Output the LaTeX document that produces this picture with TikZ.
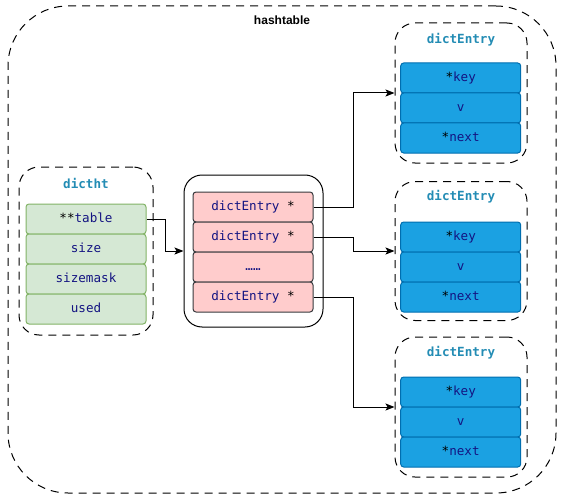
\documentclass[tikz,border=0pt]{standalone}
\usepackage{fontspec}
\setmainfont{Liberation Sans}
\setmonofont{DejaVu Sans Mono}
\usetikzlibrary{arrows.meta}
\definecolor{gfill}{HTML}{D5E8D4}
\definecolor{gdraw}{HTML}{82B366}
\definecolor{pfill}{HTML}{FFCCCC}
\definecolor{pdraw}{HTML}{36393D}
\definecolor{bfill}{HTML}{1BA1E2}
\definecolor{bdraw}{HTML}{006EAF}
\definecolor{ttl}{RGB}{35,140,180}
\definecolor{navy}{RGB}{20,20,130}
\begin{document}
\begin{tikzpicture}[x=1pt,y=-1pt,
  dsh/.style={draw=black, line width=1pt, dash pattern=on 8pt off 6pt},
  outerbox/.style={dsh, rounded corners=60pt, minimum width=548pt, minimum height=487pt, inner sep=0pt},
  contbox/.style={dsh, rounded corners=20pt, inner sep=0pt},
  tblbox/.style={draw=black, line width=1pt, rounded corners=18pt, minimum width=139pt, minimum height=152pt, inner sep=0pt},
  rowbox/.style={draw, line width=1pt, rounded corners=3pt, minimum width=120pt, minimum height=30pt, inner sep=0pt,
     font=\ttfamily\fontsize{12.6}{14}\selectfont, text=navy, text height=9pt, text depth=2.5pt},
  greenrow/.style={rowbox, fill=gfill, draw=gdraw},
  pinkrow/.style={rowbox, fill=pfill, draw=pdraw},
  bluerow/.style={rowbox, fill=bfill, draw=bdraw},
  ttlnode/.style={font=\ttfamily\bfseries\fontsize{12.6}{14}\selectfont, text=ttl, inner sep=0pt},
  conn/.style={draw=black, line width=1pt, -{Stealth[length=9pt,width=7pt,inset=2pt]}}
]
\useasboundingbox (0,0) rectangle (562,500);
% outer hashtable
\node[outerbox] (ht) at (282,249.5) {};
\node[font=\bfseries\fontsize{12}{14}\selectfont, inner sep=0pt] (htl) at (282,20) {hashtable};
% dictht
\node[contbox, minimum width=134pt, minimum height=168pt] (dictht) at (86,251) {};
\node[ttlnode] (dtl) at (86,183) {dictht};
\node[greenrow] (g1) at (86,219) {\textcolor{black}{**}table};
\node[greenrow] (g2) at (86,249) {size};
\node[greenrow] (g3) at (86,279) {sizemask};
\node[greenrow] (g4) at (86,309) {used};
% table
\node[tblbox] (tbl) at (253.5,251) {};
\node[pinkrow] (p1) at (253,207) {dictEntry \textcolor{black}{*}};
\node[pinkrow] (p2) at (253,237) {dictEntry \textcolor{black}{*}};
\node[pinkrow] (p3) at (253,267) {……};
\node[pinkrow] (p4) at (253,297) {dictEntry \textcolor{black}{*}};
% entries
\node[contbox, minimum width=132pt, minimum height=140pt] (e1) at (461,93) {};
\node[ttlnode] (e1t) at (461,40) {dictEntry};
\node[bluerow] (e1a) at (460.7,78) {\textcolor{black}{*}key};
\node[bluerow] (e1b) at (460.7,108) {v};
\node[bluerow] (e1c) at (460.7,138) {\textcolor{black}{*}next};
\node[contbox, minimum width=132pt, minimum height=139pt] (e2) at (461,251) {};
\node[ttlnode] (e2t) at (461,197) {dictEntry};
\node[bluerow] (e2a) at (460.7,237) {\textcolor{black}{*}key};
\node[bluerow] (e2b) at (460.7,267) {v};
\node[bluerow] (e2c) at (460.7,297) {\textcolor{black}{*}next};
\node[contbox, minimum width=132pt, minimum height=140pt] (e3) at (461,407) {};
\node[ttlnode] (e3t) at (461,353) {dictEntry};
\node[bluerow] (e3a) at (460.7,392) {\textcolor{black}{*}key};
\node[bluerow] (e3b) at (460.7,422) {v};
\node[bluerow] (e3c) at (460.7,452) {\textcolor{black}{*}next};
% connectors
\draw[conn] (g1.east) -- ++(19,0) |- (tbl.west);
\draw[conn] (p1.east) -- ++(40,0) |- (e1.west);
\draw[conn] (p2.east) -- ++(40,0) |- (e2.west);
\draw[conn] (p4.east) -- ++(40,0) |- (e3.west);
\end{tikzpicture}
\end{document}
